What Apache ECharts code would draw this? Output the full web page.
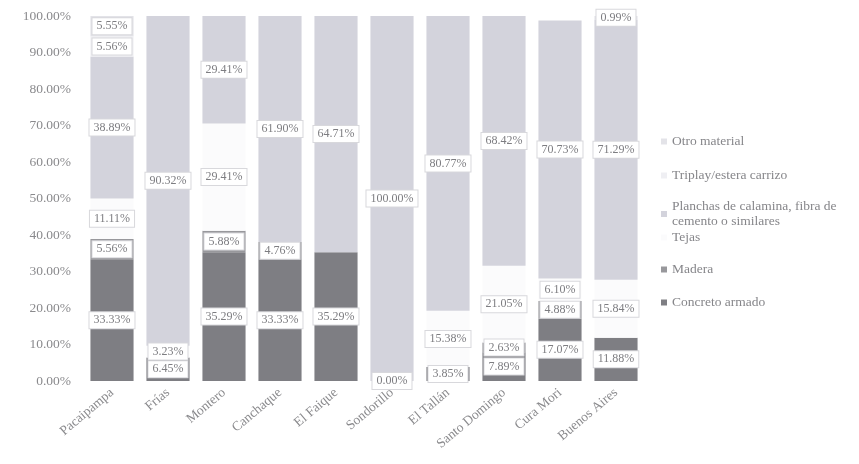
<!DOCTYPE html>
<html>
<head>
<meta charset="utf-8">
<script src="https://cdn.jsdelivr.net/npm/echarts@6/dist/echarts.min.js"></script>
<style>
  html, body { margin: 0; padding: 0; background: #ffffff; }
  #chart { width: 859px; height: 464px; }
</style>
</head>
<body>
<div id="chart"></div>
<script>
// Districts along the category axis
const districts = ['Pacaipampa', 'Frías', 'Montero', 'Canchaque', 'El Faique',
  'Sondorillo', 'El Tallán', 'Santo Domingo', 'Cura Mori', 'Buenos Aires'];

// Share of roof material per district (%), null = not reported
const concretoArmado = [33.33, 6.45, 35.29, 33.33, 35.29, 0, 3.85, 7.89, 17.07, 11.88];
const madera         = [5.56, null, 5.88, 4.76, null, null, null, 2.63, 4.88, null];
const tejas          = [11.11, 3.23, 29.41, null, null, null, 15.38, 21.05, 6.10, 15.84];
const planchas       = [38.89, 90.32, 29.41, 61.90, 64.71, 100.00, 80.77, 68.42, 70.73, 71.29];
const triplay        = [5.56, null, null, null, null, null, null, null, null, null];
const otroMaterial   = [5.55, null, null, null, null, null, null, null, null, 0.99];

// Y axis tick range (percent)
const yTicks = { min: 0, max: 100, step: 10 };

const serif = '"Liberation Serif", "DejaVu Serif", serif';

const seriesDefs = [
  { name: 'Concreto armado', data: concretoArmado, color: '#7e7e83' },
  { name: 'Madera', data: madera, color: '#98989c' },
  { name: 'Tejas', data: tejas, color: '#fbfbfc' },
  { name: 'Planchas de calamina, fibra de cemento o similares', data: planchas, color: '#d3d3dc' },
  { name: 'Triplay/estera carrizo', data: triplay, color: '#efeff3' },
  { name: 'Otro material', data: otroMaterial, color: '#e3e3e8' }
];

// Legend entries listed top to bottom with their vertical positions
const legendRows = [
  { name: 'Otro material', top: 134 },
  { name: 'Triplay/estera carrizo', top: 168 },
  { name: 'Planchas de calamina, fibra de cemento o similares', top: 199 },
  { name: 'Tejas', top: 230 },
  { name: 'Madera', top: 262 },
  { name: 'Concreto armado', top: 295 }
];

const chart = echarts.init(document.getElementById('chart'), null, { renderer: 'canvas' });

chart.setOption({
  backgroundColor: '#ffffff',
  animation: false,
  grid: { left: 84, top: 16, width: 560, height: 365, containLabel: false },
  legend: legendRows.map(r => ({
    data: [r.name],
    left: 661,
    top: r.top,
    orient: 'vertical',
    itemWidth: 6,
    itemHeight: 6,
    icon: 'rect',
    itemGap: 0,
    padding: 0,
    textStyle: { fontFamily: serif, fontSize: 13.5, color: '#86868a', lineHeight: 15 },
    formatter: name => name.startsWith('Planchas')
      ? 'Planchas de calamina, fibra de\ncemento o similares' : name
  })),
  xAxis: {
    type: 'category',
    data: districts,
    axisLine: { show: false },
    axisTick: { show: false },
    axisLabel: {
      rotate: 40,
      margin: 10,
      interval: 0,
      fontFamily: serif,
      fontSize: 13.5,
      color: '#8a8a8d'
    }
  },
  yAxis: {
    type: 'value',
    min: yTicks.min,
    max: yTicks.max,
    interval: yTicks.step,
    axisLine: { show: false },
    axisTick: { show: false },
    splitLine: { show: false },
    axisLabel: {
      margin: 13,
      fontFamily: serif,
      fontSize: 13.5,
      color: '#8a8a8d',
      formatter: v => v.toFixed(2) + '%'
    }
  },
  series: seriesDefs.map(s => ({
    name: s.name,
    type: 'bar',
    stack: 'total',
    barCategoryGap: '23%',
    data: s.data,
    itemStyle: { color: s.color },
    label: {
      show: true,
      position: 'inside',
      fontFamily: serif,
      fontSize: 12,
      color: '#7d7d81',
      backgroundColor: '#ffffff',
      borderColor: '#d8d8dc',
      borderWidth: 1,
      padding: [2, 4],
      formatter: p => (p.value == null ? '' : Number(p.value).toFixed(2) + '%')
    }
  }))
});
</script>
</body>
</html>
